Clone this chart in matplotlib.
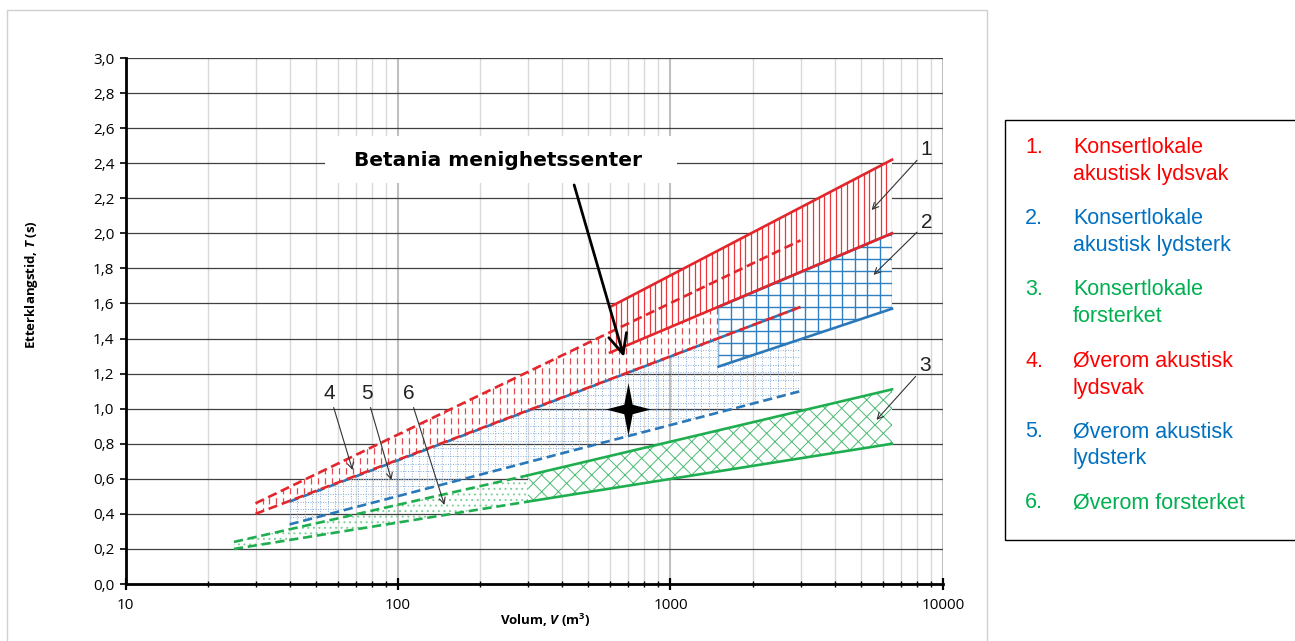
import numpy as np
import matplotlib
matplotlib.use("Agg")
import matplotlib.pyplot as plt
from matplotlib.patches import Rectangle
from matplotlib.path import Path
from matplotlib.ticker import FixedLocator, FuncFormatter, NullFormatter

# ---------------- data ----------------
r1_volume = [600, 6500]
r1_upper = [1.58, 2.42]
r1_lower = [1.32, 2.00]

r2_volume = [1500, 6500]
r2_upper = [1.58, 2.00]
r2_lower = [1.24, 1.57]

r3_volume = [300, 6500]
r3_upper = [0.62, 1.11]
r3_lower = [0.47, 0.80]

r4_volume = [30, 3000]
r4_upper = [0.46, 1.96]
r4_lower = [0.40, 1.58]

r5_volume = [40, 3000]
r5_upper = [0.47, 1.58]
r5_lower = [0.34, 1.10]

r6_volume = [25, 300]
r6_upper = [0.24, 0.62]
r6_lower = [0.20, 0.47]

betania_volume = 700
betania_time = 1.0
betania_label = "Betania menighetssenter"

y_ticks = [0.0, 0.2, 0.4, 0.6, 0.8, 1.0, 1.2, 1.4, 1.6, 1.8, 2.0, 2.2, 2.4, 2.6, 2.8, 3.0]
x_ticks = [10, 100, 1000, 10000]
x_minor = [20, 30, 40, 50, 60, 70, 80, 90, 200, 300, 400, 500, 600, 700, 800, 900,
           2000, 3000, 4000, 5000, 6000, 7000, 8000, 9000]

legend_numbers = ["1.", "2.", "3.", "4.", "5.", "6."]
legend_lines = [["Konsertlokale", "akustisk lydsvak"],
                ["Konsertlokale", "akustisk lydsterk"],
                ["Konsertlokale", "forsterket"],
                ["Øverom akustisk", "lydsvak"],
                ["Øverom akustisk", "lydsterk"],
                ["Øverom forsterket"]]
legend_colors = ["#ff0000", "#0070c0", "#00b050", "#ff0000", "#0070c0", "#00b050"]

# ---------------- style ----------------
RED = "#e3262b"
BLUE = "#2b78b8"
GREEN = "#1fae4f"

plt.rcParams["font.family"] = ["Open Sans", "DejaVu Sans"]
plt.rcParams["mathtext.fontset"] = "custom"
plt.rcParams["mathtext.rm"] = "Open Sans:bold"
plt.rcParams["mathtext.it"] = "Open Sans:bold:italic"
plt.rcParams["mathtext.bf"] = "Open Sans:bold"
plt.rcParams["hatch.linewidth"] = 0.7

W, H = 1295, 641
fig = plt.figure(figsize=(W / 100, H / 100), dpi=100)
fig.patch.set_facecolor("white")

AX_L, AX_R, AX_T, AX_B = 125.5, 943.0, 58.0, 584.0
ax = fig.add_axes([AX_L / W, 1 - AX_B / H, (AX_R - AX_L) / W, (AX_B - AX_T) / H])
DEC_PX = (AX_R - AX_L) / 3.0
Y_PX = (AX_B - AX_T) / 3.0

ax.set_xscale("log")
ax.set_xlim(10, 10000)
ax.set_ylim(0, 3.0)

# chart outer border
fig.add_artist(Rectangle((7 / W, -0.02), (987 - 7) / W, 1 - 10 / H + 0.02,
                         transform=fig.transFigure, fill=False, ec="#d0d0d0", lw=1))

# ---------------- grid / axes ----------------
ax.xaxis.set_major_locator(FixedLocator(x_ticks))
ax.xaxis.set_minor_locator(FixedLocator(x_minor))
ax.xaxis.set_major_formatter(FuncFormatter(lambda v, p: f"{int(round(v))}"))
ax.xaxis.set_minor_formatter(NullFormatter())
ax.yaxis.set_major_locator(FixedLocator(y_ticks))
ax.yaxis.set_major_formatter(FuncFormatter(lambda v, p: f"{v:.1f}".replace(".", ",")))

ax.set_axisbelow(True)
ax.grid(which="major", axis="x", color="#bfbfbf", lw=1.5)
ax.grid(which="minor", axis="x", color="#d9d9d9", lw=1.0)
ax.grid(which="major", axis="y", color="#404040", lw=0.9)

for s in ["top", "right"]:
    ax.spines[s].set_visible(False)
for s in ["left", "bottom"]:
    ax.spines[s].set_linewidth(2.0)
    ax.spines[s].set_color("black")

ax.tick_params(axis="y", which="major", direction="out", length=4.5, width=1.2,
               pad=3.5, labelsize=11)
ax.tick_params(axis="x", which="major", direction="inout", length=9, width=1.6,
               pad=5.5, labelsize=11)
ax.tick_params(axis="x", which="minor", direction="inout", length=4, width=1.0)

ax.set_xlabel("Volum, $V$ (m$^3$)", fontsize=9.5, fontweight="bold")
ax.set_ylabel("Etterklangstid, $T$ (s)", fontsize=9.5, fontweight="bold")
ax.xaxis.set_label_coords((545 - AX_L) / (AX_R - AX_L), (AX_B - 612) / (AX_B - AX_T))
ax.yaxis.set_label_coords((40 - AX_L) / (AX_R - AX_L), (AX_B - 285) / (AX_B - AX_T))


# ---------------- helpers ----------------
def region(V, U, L, face="none", edge="none", hatch=None, z=1):
    V = np.asarray(V, float)
    U = np.asarray(U, float)
    L = np.asarray(L, float)
    p = ax.fill(np.concatenate([V, V[::-1]]), np.concatenate([U, L[::-1]]),
                facecolor=face, edgecolor=edge, lw=0, hatch=hatch, zorder=z)[0]
    return p


def log_steps(v0, v1, spacing_px):
    a, b = np.log10(v0), np.log10(v1)
    n = max(int(round((b - a) * DEC_PX / spacing_px)), 1)
    return 10 ** np.linspace(a, b, n + 1)


def vtexture(poly, V, U, L, spacing, color, lw, ls="solid", z=1.1):
    xs = log_steps(V[0], V[-1], spacing)
    lc = ax.vlines(xs, min(L), max(U), colors=color, lw=lw, linestyles=ls, zorder=z)
    lc.set_clip_path(poly)


def htexture(poly, V, U, L, spacing, color, lw, ls="solid", z=1.1):
    ys = np.arange(min(L), max(U) + 1e-9, spacing / Y_PX)
    lc = ax.hlines(ys, V[0], V[-1], colors=color, lw=lw, linestyles=ls, zorder=z)
    lc.set_clip_path(poly)


# ---------------- regions ----------------
# 6: Øverom forsterket (dots)
p6 = region(r6_volume, r6_upper, r6_lower, face="none", edge="#7fcf98", hatch="...", z=1.0)

# 5: Øverom akustisk lydsterk (dotted light-blue grid)
p5 = region(r5_volume, r5_upper, r5_lower, z=1.2)
vtexture(p5, r5_volume, r5_upper, r5_lower, 7.6, "#93b6e0", 0.75, (0, (1, 1.4)), z=1.2)
htexture(p5, r5_volume, r5_upper, r5_lower, 7.6, "#93b6e0", 0.75, (0, (1, 1.4)), z=1.2)

# 4: Øverom akustisk lydsvak (dashed red verticals)
p4 = region(r4_volume, r4_upper, r4_lower, face="white", z=1.4)
vtexture(p4, r4_volume, r4_upper, r4_lower, 7.0, "#e5484c", 0.9, (0, (5, 3)), z=1.45)

# 3: Konsertlokale forsterket (green cross-hatch)
p3 = region(r3_volume, r3_upper, r3_lower, face="white", edge="#4dbb75", hatch="xx", z=2.0)

# 1: Konsertlokale akustisk lydsvak (red verticals)
p1 = region(r1_volume, r1_upper, r1_lower, face="white", z=2.0)
vtexture(p1, r1_volume, r1_upper, r1_lower, 5.6, "#e8383d", 0.9, z=2.1)

# 2: Konsertlokale akustisk lydsterk (blue grid)
p2 = region(r2_volume, r2_upper, r2_lower, face="white", z=2.0)
vtexture(p2, r2_volume, r2_upper, r2_lower, 12.0, "#2f7fc1", 1.0, z=2.1)
htexture(p2, r2_volume, r2_upper, r2_lower, 12.0, "#2f7fc1", 1.0, z=2.1)

# ---------------- boundary lines ----------------
LW = 1.9
DASH = (3.5, 1.8)
ax.plot(r6_volume, r6_upper, color=GREEN, lw=LW, dashes=DASH, zorder=3)
ax.plot(r6_volume, r6_lower, color=GREEN, lw=LW, dashes=DASH, zorder=3)
ax.plot(r3_volume, r3_upper, color=GREEN, lw=LW, zorder=3)
ax.plot(r3_volume, r3_lower, color=GREEN, lw=LW, zorder=3)
ax.plot(r5_volume, r5_lower, color=BLUE, lw=LW, dashes=DASH, zorder=3)
ax.plot(r5_volume, r5_upper, color=BLUE, lw=LW, dashes=DASH, zorder=3)
ax.plot(r4_volume, r4_upper, color=RED, lw=LW, dashes=DASH, zorder=3.1)
ax.plot(r4_volume, r4_lower, color=RED, lw=LW, dashes=DASH, zorder=3.1)
ax.plot(r2_volume, r2_lower, color=BLUE, lw=LW, zorder=3)
ax.plot(r2_volume, r2_upper, color=BLUE, lw=LW, zorder=3)
ax.plot(r1_volume, r1_upper, color=RED, lw=LW, zorder=3.2)
ax.plot(r1_volume, r1_lower, color=RED, lw=LW, zorder=3.2)

# ---------------- Betania star ----------------
star = Path([(0, 1), (0.16, 0.18), (0.85, 0), (0.16, -0.18), (0, -1),
             (-0.16, -0.18), (-0.85, 0), (-0.16, 0.18), (0, 1)],
            [Path.MOVETO] + [Path.LINETO] * 7 + [Path.CLOSEPOLY])
ax.plot([betania_volume], [betania_time], marker=star, markersize=38,
        color="black", mec="black", mew=0, ls="none", zorder=4)

# Betania label box + arrow
bx0, bx1, by0, by1 = 325, 677, 183, 136
ax.add_patch(Rectangle(((bx0 - AX_L) / (AX_R - AX_L), (AX_B - by0) / (AX_B - AX_T)),
                       (bx1 - bx0) / (AX_R - AX_L), (by0 - by1) / (AX_B - AX_T),
                       transform=ax.transAxes, facecolor="white", edgecolor="none",
                       zorder=5))
ax.text((498 - AX_L) / (AX_R - AX_L), (AX_B - 161) / (AX_B - AX_T), betania_label,
        transform=ax.transAxes, ha="center", va="center", fontsize=14.5,
        fontweight="bold", family="DejaVu Sans", zorder=6)
ax.annotate("", xy=(675, 1.295), xytext=(443, 2.276),
            arrowprops=dict(arrowstyle="->,head_length=0.7,head_width=0.33", lw=2.0,
                            color="black", shrinkA=0, shrinkB=0, mutation_scale=20),
            zorder=6)

# ---------------- numbered labels ----------------
num_labels = ["1", "2", "3", "4", "5", "6"]
num_text_pos = [(8700, 2.476), (8700, 2.06), (8600, 1.244),
                (56.1, 1.084), (76.7, 1.084), (110, 1.084)]
num_tip_pos = [(5470, 2.133), (5560, 1.763), (5700, 0.936),
               (68.1, 0.65), (94.6, 0.593), (148, 0.451)]
for lab, tp, tip in zip(num_labels, num_text_pos, num_tip_pos):
    ax.annotate(lab, xy=tip, xytext=tp, ha="center", va="center", fontsize=15,
                family="Liberation Sans", color="#222222", zorder=6,
                arrowprops=dict(arrowstyle="->", lw=0.8, color="#333333",
                                shrinkA=1, shrinkB=0, mutation_scale=11))

# ---------------- legend box ----------------
fig.add_artist(Rectangle((1005 / W, 1 - 540 / H), 0.3, (540 - 120) / H,
                         transform=fig.transFigure, fill=False, ec="black", lw=1.0))
first_baselines = [153.3, 224.0, 295.0, 366.7, 437.3, 508.3]
for num, lines, col, b in zip(legend_numbers, legend_lines, legend_colors, first_baselines):
    fig.text(1025 / W, 1 - b / H, num, color=col, fontsize=15.5,
             family="Liberation Sans", va="baseline", ha="left")
    for k, ln in enumerate(lines):
        fig.text(1073 / W, 1 - (b + 27 * k) / H, ln, color=col, fontsize=15.5,
                 family="Liberation Sans", va="baseline", ha="left")

fig.savefig("out.png", dpi=100)
